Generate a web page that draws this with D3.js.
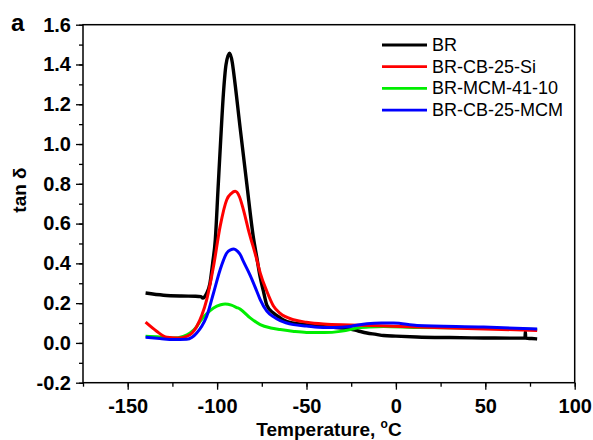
<!DOCTYPE html>
<html>
<head>
<meta charset="utf-8">
<script src="https://cdn.jsdelivr.net/npm/d3@7"></script>
<style>
  body { margin: 0; background: #fff; }
  text { font-family: "Liberation Sans", Arial, sans-serif; }
</style>
</head>
<body>
<div id="chart"></div>
<script>
// temperature (°C) and tan δ
const brT = [-140, -130, -120, -112, -109, -108, -107, -105.8, -104, -102.5, -101, -99.5, -98, -96.5, -95, -93, -91.5, -90.7, -87.1, -83.4, -79.7, -77.8, -75.9, -74.1, -72.2, -68.5, -64.7, -62.9, -58, -50, -45, -34.9, -25.5, -21, -16.2, -11, -6.9, 0, 11.8, 30, 49.1, 65, 72.2, 72.4, 72.6, 76, 79];
const brY = [0.251, 0.24, 0.236, 0.235, 0.233, 0.225, 0.232, 0.25, 0.3, 0.4, 0.52, 0.77, 1.02, 1.25, 1.4, 1.457, 1.41, 1.357, 1.08, 0.8, 0.53, 0.43, 0.33, 0.26, 0.19, 0.15, 0.126, 0.115, 0.1, 0.092, 0.086, 0.078, 0.07, 0.06, 0.05, 0.043, 0.037, 0.034, 0.03, 0.027, 0.025, 0.024, 0.024, 0.058, 0.024, 0.022, 0.02];

const siT = [-140, -134, -128, -122, -117, -114, -111.4, -108.5, -105.8, -102, -98.3, -94.6, -92, -89.9, -87.5, -85.3, -82.5, -77.8, -75.9, -72.2, -68.4, -64.7, -57.3, -50, -40.5, -25.5, 2.5, 30.5, 79];
const siY = [0.104, 0.06, 0.028, 0.025, 0.033, 0.05, 0.083, 0.14, 0.218, 0.385, 0.586, 0.72, 0.752, 0.762, 0.735, 0.67, 0.569, 0.419, 0.352, 0.26, 0.184, 0.148, 0.117, 0.104, 0.095, 0.09, 0.083, 0.075, 0.063];

const mcmT = [-140, -132, -124.4, -119, -115.1, -112, -109.5, -106, -102, -98, -95.5, -92, -89, -87.1, -81.5, -75.9, -70, -64.7, -57, -50, -40, -31.1, -25, -21.8, -15, -6.9, 11.8, 49.1, 79];
const mcmY = [0.033, 0.03, 0.025, 0.033, 0.05, 0.075, 0.109, 0.145, 0.176, 0.192, 0.196, 0.19, 0.178, 0.17, 0.126, 0.092, 0.075, 0.067, 0.058, 0.053, 0.052, 0.058, 0.068, 0.075, 0.08, 0.083, 0.078, 0.075, 0.067];

const cbmT = [-140, -132, -124.4, -117, -114, -111.4, -108.5, -105.8, -102, -98.3, -94.6, -92.5, -90.6, -88.5, -87.1, -85.3, -81.5, -77.8, -75.9, -72.2, -68.4, -64.7, -57.3, -50, -40.5, -34.9, -25.5, -16.2, -8, -1.3, 11.8, 49.1, 79];
const cbmY = [0.028, 0.022, 0.017, 0.018, 0.028, 0.05, 0.085, 0.134, 0.251, 0.368, 0.452, 0.468, 0.472, 0.46, 0.445, 0.41, 0.34, 0.26, 0.218, 0.16, 0.131, 0.112, 0.092, 0.085, 0.078, 0.078, 0.083, 0.097, 0.1, 0.1, 0.088, 0.08, 0.07];

const seriesNames = ["BR", "BR-CB-25-Si", "BR-MCM-41-10", "BR-CB-25-MCM"];
const seriesColors = ["#000000", "#ff0000", "#00ee00", "#0000ff"];
const seriesT = [brT, siT, mcmT, cbmT];
const seriesY = [brY, siY, mcmY, cbmY];

const xTicks = [-150, -100, -50, 0, 50, 100];
const yTicks = [-0.2, 0.0, 0.2, 0.4, 0.6, 0.8, 1.0, 1.2, 1.4, 1.6];

const W = 593, H = 440;
const margin = { top: 24.7, right: 18.3, bottom: 57.3, left: 83 };

const svg = d3.select("#chart").append("svg")
    .attr("width", W)
    .attr("height", H);

const x = d3.scaleLinear().domain([-175, 100]).range([margin.left, W - margin.right]);
const y = d3.scaleLinear().domain([-0.2, 1.6]).range([H - margin.bottom, margin.top]);

// hyphen minus like the original
const fmtX = d => d3.format("d")(d).replace("−", "-");
const fmtY = d => d3.format(".1f")(d).replace("−", "-");

// minor ticks
svg.append("g")
    .attr("transform", `translate(0,${H - margin.bottom})`)
    .call(d3.axisBottom(x).tickValues(d3.range(-175, 101, 25)).tickSize(4).tickFormat(""))
    .call(g => g.select(".domain").remove())
    .selectAll("line").attr("stroke-width", 1.3);
svg.append("g")
    .attr("transform", `translate(${margin.left},0)`)
    .call(d3.axisLeft(y).tickValues(d3.range(-2, 17).map(v => v / 10)).tickSize(4).tickFormat(""))
    .call(g => g.select(".domain").remove())
    .selectAll("line").attr("stroke-width", 1.3);

// major ticks + labels
const xAxis = svg.append("g")
    .attr("transform", `translate(0,${H - margin.bottom})`)
    .call(d3.axisBottom(x).tickValues(xTicks).tickSize(7).tickPadding(9).tickFormat(fmtX));
xAxis.select(".domain").remove();
xAxis.selectAll("line").attr("stroke-width", 1.3);
xAxis.selectAll("text")
    .attr("font-size", 20).attr("font-weight", "bold").attr("fill", "#000")
    .style("font-family", "Liberation Sans, Arial, sans-serif");

const yAxis = svg.append("g")
    .attr("transform", `translate(${margin.left},0)`)
    .call(d3.axisLeft(y).tickValues(yTicks).tickSize(7).tickPadding(5).tickFormat(fmtY));
yAxis.select(".domain").remove();
yAxis.selectAll("line").attr("stroke-width", 1.3);
yAxis.selectAll("text")
    .attr("font-size", 20).attr("font-weight", "bold").attr("fill", "#000")
    .style("font-family", "Liberation Sans, Arial, sans-serif");

// frame
svg.append("rect")
    .attr("x", margin.left)
    .attr("y", margin.top)
    .attr("width", W - margin.left - margin.right)
    .attr("height", H - margin.top - margin.bottom)
    .attr("fill", "none")
    .attr("stroke", "#000")
    .attr("stroke-width", 1.5);

// curves
const line = d3.line()
    .x(d => x(d[0]))
    .y(d => y(d[1]))
    .curve(d3.curveMonotoneX);

// draw in the order of the picture: black under, blue on top
[0, 2, 1, 3].forEach(i => {
    const pts = seriesT[i].map((t, j) => [t, seriesY[i][j]]);
    svg.append("path")
        .datum(pts)
        .attr("fill", "none")
        .attr("stroke", seriesColors[i])
        .attr("stroke-width", i === 0 ? 3.4 : 3)
        .attr("stroke-linejoin", "round")
        .attr("d", line);
});

// legend
const legend = svg.append("g").attr("transform", "translate(382,45)");
seriesNames.forEach((name, i) => {
    const g = legend.append("g").attr("transform", `translate(0,${i * 21.7})`);
    g.append("line")
        .attr("x1", 0).attr("x2", 45)
        .attr("stroke", seriesColors[i])
        .attr("stroke-width", 2.8);
    g.append("text")
        .attr("x", 50).attr("y", 6)
        .attr("font-size", 18)
        .text(name);
});

// panel letter
svg.append("text")
    .attr("x", 11).attr("y", 31)
    .attr("font-size", 24).attr("font-weight", "bold")
    .text("a");

// axis titles
svg.append("text")
    .attr("transform", "translate(26,190) rotate(-90)")
    .attr("text-anchor", "middle")
    .attr("font-size", 19).attr("font-weight", "bold")
    .text("tan δ");

const xt = svg.append("text")
    .attr("x", 329).attr("y", 436)
    .attr("text-anchor", "middle")
    .attr("font-size", 19).attr("font-weight", "bold");
xt.append("tspan").text("Temperature, ");
xt.append("tspan").attr("font-size", 12).attr("dy", -8).text("o");
xt.append("tspan").attr("dy", 8).text("C");
</script>
</body>
</html>
